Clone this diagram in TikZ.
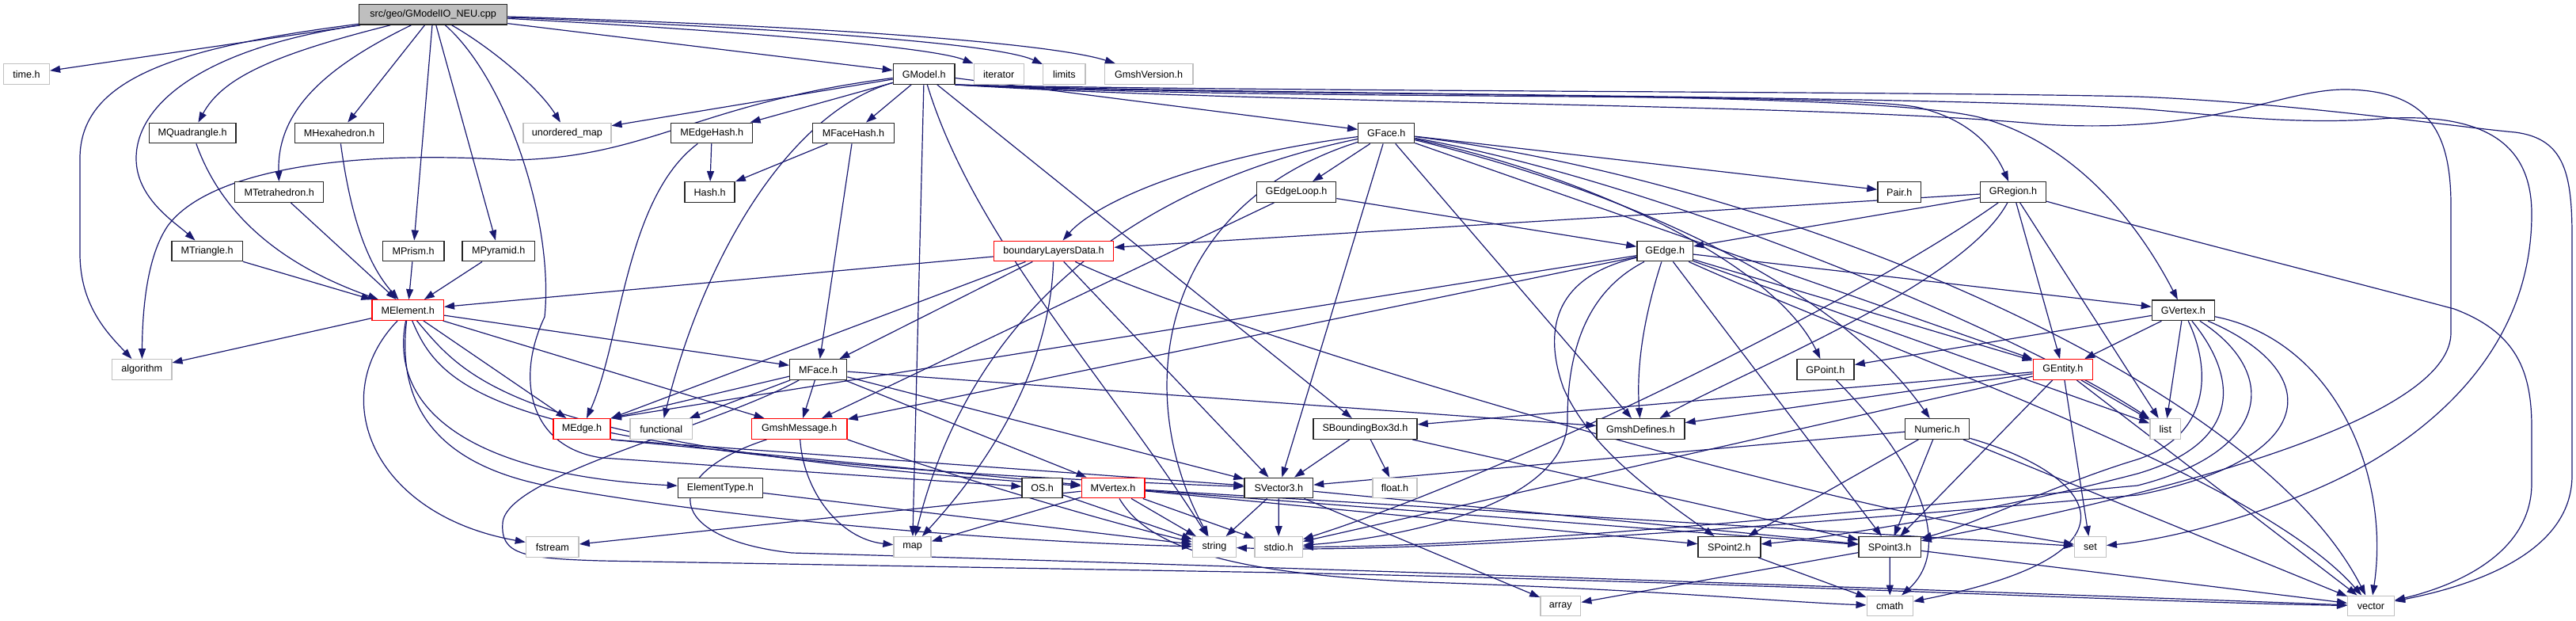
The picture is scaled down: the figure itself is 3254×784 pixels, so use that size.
\documentclass[tikz,border=0pt]{standalone}
\usepackage{fontspec}
\setmainfont{Liberation Sans}
\usetikzlibrary{arrows.meta}
\pgfdeclarelayer{bg}
\pgfsetlayers{bg,main}
\definecolor{edgec}{HTML}{191970}
\definecolor{grayb}{HTML}{C0C0C0}
\definecolor{redb}{HTML}{FF0000}
\definecolor{rootf}{HTML}{BFBFBF}
\begin{document}
\begin{tikzpicture}[x=1pt,y=-1pt,
  nd/.style={draw=black!85,line width=1.4pt,fill=white,minimum height=25.5pt,inner sep=0pt,font=\fontsize{12.6}{14}\selectfont},
  sys/.style={nd,draw=grayb},
  trunc/.style={nd,draw=redb},
  rootn/.style={nd,fill=rootf},
  e/.style={draw=edgec,line width=1.2pt,-{Triangle[length=13pt,width=9pt]}}]
\useasboundingbox (0,0) rectangle (3254,784);
% row 0
\node[rootn,minimum width=187.2pt] (root) at (547.1,18.3) {src/geo/GModelIO\_NEU.cpp};
% row 1
\node[sys,minimum width=57.8pt] (timeh) at (33.5,93.5) {time.h};
\node[nd,minimum width=77.6pt] (GModel) at (1167.2,93.5) {GModel.h};
\node[sys,minimum width=63pt] (iter) at (1261.7,93.5) {iterator};
\node[sys,minimum width=53.3pt] (limits) at (1344.4,93.5) {limits};
\node[sys,minimum width=111.6pt] (gver) at (1451.1,93.5) {GmshVersion.h};
% row 2
\node[nd,minimum width=109.4pt] (MQuad) at (243.1,168) {MQuadrangle.h};
\node[nd,minimum width=112.2pt] (MHex) at (428.6,168) {MHexahedron.h};
\node[sys,minimum width=110.8pt] (umap) at (716.4,168) {unordered\_map};
\node[nd,minimum width=103.1pt] (MEdgeHash) at (899.2,168) {MEdgeHash.h};
\node[nd,minimum width=103pt] (MFaceHash) at (1078,168) {MFaceHash.h};
\node[nd,minimum width=70.9pt] (GFace) at (1751.2,168) {GFace.h};
% row 3
\node[nd,minimum width=111.9pt] (MTet) at (352.7,242.5) {MTetrahedron.h};
\node[nd,minimum width=63.1pt] (Hash) at (896.6,242.5) {Hash.h};
\node[nd,minimum width=100.2pt] (GEdgeLoop) at (1637.6,242.5) {GEdgeLoop.h};
\node[nd,minimum width=54.7pt] (Pair) at (2399.3,242.5) {Pair.h};
\node[nd,minimum width=82.8pt] (GRegion) at (2543,242.5) {GRegion.h};
% row 4
\node[nd,minimum width=89.1pt] (MTri) at (261.7,317) {MTriangle.h};
\node[nd,minimum width=77.7pt] (MPrism) at (522.1,317) {MPrism.h};
\node[nd,minimum width=91.2pt] (MPyr) at (629.7,317) {MPyramid.h};
\node[trunc,minimum width=151.2pt] (bld) at (1331,317) {boundaryLayersData.h};
\node[nd,minimum width=70.5pt] (GEdge) at (2103.2,317) {GEdge.h};
% row 5
\node[trunc,minimum width=90.3pt] (MElement) at (515.2,391.5) {MElement.h};
\node[nd,minimum width=78.8pt] (GVertex) at (2757.8,391.8) {GVertex.h};
% row 6
\node[sys,minimum width=75.1pt] (algo) at (179.3,466.5) {algorithm};
\node[nd,minimum width=71.9pt] (MFace) at (1033.7,466.5) {MFace.h};
\node[nd,minimum width=72.2pt] (GPoint) at (2305.9,466.5) {GPoint.h};
\node[trunc,minimum width=75pt] (GEntity) at (2605.8,466.5) {GEntity.h};
% row 7
\node[trunc,minimum width=72.2pt] (MEdge) at (735,541.5) {MEdge.h};
\node[sys,minimum width=78.6pt] (functional) at (835.3,541.5) {functional};
\node[trunc,minimum width=120.3pt] (GmshMsg) at (1009.8,541.5) {GmshMessage.h};
\node[nd,minimum width=131.2pt] (SBB) at (1724.5,541.5) {SBoundingBox3d.h};
\node[nd,minimum width=110.9pt] (GDefs) at (2072.5,541.5) {GmshDefines.h};
\node[nd,minimum width=81pt] (Numeric) at (2447.1,541.5) {Numeric.h};
\node[sys,minimum width=38.9pt] (list) at (2735.3,541.5) {list};
% row 8
\node[nd,minimum width=107pt] (ElemType) at (909.9,616) {ElementType.h};
\node[nd,minimum width=50.9pt] (OS) at (1316.6,616) {OS.h};
\node[trunc,minimum width=79.6pt] (MVertex) at (1406,616) {MVertex.h};
\node[nd,minimum width=86.6pt] (SVec3) at (1615.3,616) {SVector3.h};
\node[sys,minimum width=56.1pt] (floath) at (1762,616) {float.h};
% row 9
\node[sys,minimum width=66.7pt] (fstream) at (697.8,690.5) {fstream};
\node[sys,minimum width=47pt] (map) at (1152.6,690.5) {map};
\node[sys,minimum width=54.7pt] (string) at (1533.9,690.5) {string};
\node[sys,minimum width=60.3pt] (stdio) at (1615.1,690.5) {stdio.h};
\node[nd,minimum width=78.8pt] (SPt2) at (2184.4,690.5) {SPoint2.h};
\node[nd,minimum width=78.2pt] (SPt3) at (2387.1,690.5) {SPoint3.h};
\node[sys,minimum width=39.7pt] (set) at (2640.4,690.5) {set};
% row 10
\node[sys,minimum width=50.8pt] (array) at (1971.3,765) {array};
\node[sys,minimum width=58.2pt] (cmath) at (2387.3,765) {cmath};
\node[sys,minimum width=58.7pt] (vector) at (2995,765) {vector};

\begin{pgfonlayer}{bg}
% root
\draw[e] (root) -- (timeh);
\draw[e] (root) .. controls (220,60) and (101,100) .. (101,200) -- (101,320) .. controls (101,385) and (135,420) .. (algo);
\draw[e] (root) .. controls (260,60) and (172,130) .. (172,200) .. controls (172,250) and (220,280) .. (MTri);
\draw[e] (root) .. controls (340,70) and (280,100) .. (MQuad);
\draw[e] (root) .. controls (410,85) and (350,140) .. (MTet);
\draw[e] (root) -- (MHex);
\draw[e] (root) -- (MPrism);
\draw[e] (root) -- (MPyr);
\draw[e] (root) .. controls (620,60) and (680,110) .. (umap);
\draw[e] (root) -- (GModel);
\draw[e] (root) .. controls (950,40) and (1180,60) .. (iter);
\draw[e] (root) .. controls (1000,36) and (1260,55) .. (limits);
\draw[e] (root) .. controls (1050,33) and (1330,55) .. (gver);
\draw[e] (root) .. controls (640,100) and (700,280) .. (688,400) .. controls (650,480) and (670,565) .. (760,578) -- (OS);
% element types
\draw[e] (MTri) -- (MElement);
\draw[e] (MQuad) .. controls (290,300) and (400,350) .. (MElement);
\draw[e] (MTet) -- (MElement);
\draw[e] (MHex) .. controls (445,290) and (470,340) .. (MElement);
\draw[e] (MPrism) -- (MElement);
\draw[e] (MPyr) -- (MElement);
% GModel
\draw[e] (GModel) .. controls (880,130) and (820,200) .. (645,202) .. controls (420,188) and (260,220) .. (212,285) .. controls (188,320) and (180,380) .. (algo);
\draw[e] (GModel) -- (umap);
\draw[e] (GModel) -- (MEdgeHash);
\draw[e] (GModel) -- (MFaceHash);
\draw[e] (GModel) .. controls (1000,140) and (890,320) .. (functional);
\draw[e] (GModel) -- (map);
\draw[e] (GModel) .. controls (1230,300) and (1400,480) .. (string);
\draw[e] (GModel) -- (SBB);
\draw[e] (GModel) -- (GFace);
\draw[e] (GModel.south east) .. controls (1600,128) and (2300,115) .. (2420,135) .. controls (2490,150) and (2520,190) .. (GRegion);
\draw[e] (GModel.south east) .. controls (1600,124) and (2350,112) .. (2500,148) .. controls (2620,180) and (2700,280) .. (GVertex);
\draw[e] (GModel.south east) .. controls (1600,132) and (2300,130) .. (2580,157) .. controls (2800,170) and (2880,112) .. (2965,113) .. controls (3070,115) and (3096,170) .. (3096,260) -- (3096,420) .. controls (3096,520) and (2800,610) .. (SPt3);
\draw[e] (GModel.south east) .. controls (1600,120) and (2400,120) .. (2700,137) .. controls (2800,145) and (2900,158) .. (3007,150) .. controls (3150,140) and (3198,190) .. (3198,270) .. controls (3198,420) and (3100,520) .. (3000,580) .. controls (2900,640) and (2750,680) .. (set);
\draw[e] (GModel.south east) .. controls (1600,116) and (2400,115) .. (2700,122) .. controls (2900,130) and (3100,160) .. (3177,167) .. controls (3240,175) and (3249,220) .. (3249,300) -- (3249,600) .. controls (3249,700) and (3120,740) .. (vector);
% hashes
\draw[e] (MEdgeHash) -- (Hash);
\draw[e] (MFaceHash) -- (Hash);
\draw[e] (MEdgeHash) .. controls (790,250) and (785,430) .. (MEdge);
\draw[e] (MFaceHash) -- (MFace);
% boundaryLayersData
\draw[e] (bld) -- (MElement);
\draw[e] (bld) -- (MFace);
\draw[e] (bld) -- (MEdge.north east);
\draw[e] (bld) .. controls (1328,420) and (1290,540) .. (map);
\draw[e] (bld) -- (SVec3);
\draw[e] (bld) .. controls (1500,400) and (2200,620) .. (set);
% GFace
\draw[e] (GFace) -- (GEdgeLoop);
\draw[e] (GFace) .. controls (1500,200) and (1380,260) .. (bld);
\draw[e] (GFace) -- (SVec3);
\draw[e] (GFace) -- (GDefs);
\draw[e] (GFace) -- (Pair);
\draw[e] (GFace) -- (GEntity);
\draw[e] (GFace) .. controls (2000,220) and (2240,330) .. (GPoint);
\draw[e] (GFace) .. controls (2050,240) and (2320,360) .. (Numeric);
\draw[e] (GFace) .. controls (2100,230) and (2550,420) .. (list);
\draw[e] (GFace) .. controls (2250,230) and (2850,480) .. (vector);
\draw[e] (GFace) .. controls (1450,230) and (1230,380) .. (map);
\draw[e] (GFace) .. controls (1460,260) and (1430,500) .. (string);
% GEdgeLoop
\draw[e] (GEdgeLoop) -- (GEdge);
\draw[e] (GEdgeLoop) -- (GmshMsg);
% GRegion
\draw[e] (GRegion) -- (bld);
\draw[e] (GRegion) -- (GEdge);
\draw[e] (GRegion) -- (GEntity);
\draw[e] (GRegion) -- (list);
\draw[e] (GRegion) .. controls (2480,360) and (2200,470) .. (GDefs);
\draw[e] (GRegion) .. controls (2350,380) and (1900,600) .. (stdio);
\draw[e] (GRegion) .. controls (2750,300) and (2950,350) .. (3100,390) .. controls (3180,420) and (3198,470) .. (3198,540) -- (3198,610) .. controls (3198,700) and (3100,740) .. (vector);
% GEdge
\draw[e] (GEdge) -- (GVertex);
\draw[e] (GEdge) -- (GEntity);
\draw[e] (GEdge) .. controls (1960,350) and (1950,420) .. (1975,490) .. controls (2010,570) and (2100,630) .. (SPt2);
\draw[e] (GEdge) .. controls (2000,370) and (1980,450) .. (1980,530) .. controls (1980,640) and (1760,680) .. (stdio);
\draw[e] (GEdge) .. controls (2070,420) and (2068,480) .. (GDefs);
\draw[e] (GEdge) -- (SPt3);
\draw[e] (GEdge) -- (GmshMsg);
\draw[e] (GEdge) -- (MEdge.north east);
\draw[e] (GEdge) -- (list);
\draw[e] (GEdge) .. controls (2400,450) and (2850,600) .. (vector);
% GVertex
\draw[e] (GVertex) -- (GEntity);
\draw[e] (GVertex) -- (GPoint);
\draw[e] (GVertex) -- (list);
\draw[e] (GVertex) .. controls (2795,470) and (2790,550) .. (2700,580) .. controls (2600,610) and (2500,660) .. (SPt3);
\draw[e] (GVertex) .. controls (2830,480) and (2830,560) .. (2700,598) .. controls (2500,650) and (2300,680) .. (SPt2);
\draw[e] (GVertex) .. controls (2880,470) and (2870,570) .. (2700,613) .. controls (2300,650) and (1900,690) .. (stdio);
\draw[e] (GVertex) .. controls (2940,470) and (2930,580) .. (2700,625) .. controls (2300,660) and (1800,700) .. (string);
\draw[e] (GVertex) .. controls (2950,430) and (3020,600) .. (vector);
% GEntity
\draw[e] (GEntity) -- (list);
\draw[e] (GEntity) -- (set);
\draw[e] (GEntity) -- (SPt3);
\draw[e] (GEntity) -- (SBB);
\draw[e] (GEntity) -- (GDefs);
\draw[e] (GEntity) -- (vector);
\draw[e] (GEntity) -- (stdio);
% Numeric
\draw[e] (Numeric) -- (SPt3);
\draw[e] (Numeric) -- (SPt2);
\draw[e] (Numeric) -- (SVec3);
\draw[e] (Numeric) .. controls (2650,600) and (2720,700) .. (cmath);
\draw[e] (Numeric) -- (vector);
% GPoint
\draw[e] (GPoint) .. controls (2420,580) and (2470,690) .. (cmath);
% SBoundingBox3d
\draw[e] (SBB) -- (SVec3);
\draw[e] (SBB) -- (floath);
\draw[e] (SBB) -- (SPt3);
% SVector3
\draw[e] (SVec3) -- (string);
\draw[e] (SVec3) -- (stdio);
\draw[e] (SVec3) -- (array);
\draw[e] (SVec3) -- (SPt3);
% SPoint3 / SPoint2
\draw[e] (SPt3) -- (cmath);
\draw[e] (SPt3) -- (array);
\draw[e] (SPt3) -- (vector);
\draw[e] (SPt2) -- (cmath);
% MElement
\draw[e] (MElement) -- (algo);
\draw[e] (MElement) .. controls (410,500) and (470,650) .. (fstream);
\draw[e] (MElement) .. controls (490,520) and (600,600) .. (ElemType);
\draw[e] (MElement) -- (MFace);
\draw[e] (MElement) -- (MEdge);
\draw[e] (MElement) -- (GmshMsg);
\draw[e] (MElement) .. controls (590,480) and (650,565) .. (MVertex);
\draw[e] (MElement) .. controls (560,500) and (640,580) .. (SVec3);
\draw[e] (MElement) .. controls (500,520) and (560,590) .. (700,615) .. controls (950,660) and (1300,685) .. (string);
% MFace
\draw[e] (MFace) -- (MEdge.north east);
\draw[e] (MFace) -- (functional);
\draw[e] (MFace) -- (GmshMsg);
\draw[e] (MFace) -- (MVertex);
\draw[e] (MFace) -- (SVec3);
\draw[e] (MFace) -- (GDefs);
\draw[e] (MFace) .. controls (900,540) and (640,600) .. (635,660) .. controls (632,700) and (660,705) .. (760,708) -- (1620,723) .. controls (2200,735) and (2700,760) .. (vector);
% GmshMessage
\draw[e] (GmshMsg) .. controls (1015,620) and (1060,680) .. (map);
\draw[e] (GmshMsg.south east) .. controls (1200,600) and (1400,660) .. (string);
\draw[e] (GmshMsg) .. controls (830,600) and (840,680) .. (1000,698) .. controls (1500,712) and (2600,750) .. (vector);
% MEdge
\draw[e] (MEdge.south east) -- (MVertex);
\draw[e] (MEdge.south east) -- (SVec3);
% MVertex
\draw[e] (MVertex) -- (map);
\draw[e] (MVertex) -- (fstream);
\draw[e] (MVertex) -- (stdio);
\draw[e] (MVertex) -- (string);
\draw[e] (MVertex) -- (SPt2);
\draw[e] (MVertex) -- (SPt3);
\draw[e] (MVertex) -- (set);
\draw[e] (MVertex) .. controls (1450,690) and (1550,725) .. (1800,735) .. controls (2100,745) and (2250,760) .. (cmath);
% others
\draw[e] (OS) -- (string);
\draw[e] (ElemType) -- (string);
\end{pgfonlayer}
\end{tikzpicture}
\end{document}
